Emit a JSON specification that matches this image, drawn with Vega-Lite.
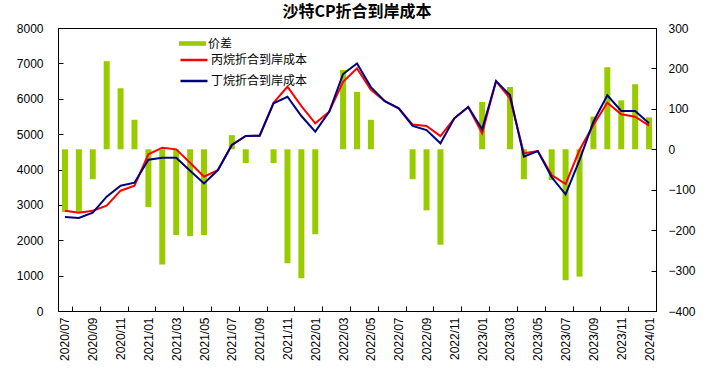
{
  "$schema": "https://vega.github.io/schema/vega-lite/v6.json",
  "width": 598,
  "height": 283,
  "autosize": "none",
  "padding": {"left": 58, "top": 28, "right": 54, "bottom": 74},
  "background": "white",
  "title": {"text": "沙特CP折合到岸成本", "font": "Noto Sans CJK SC", "fontSize": 16, "fontWeight": "bold", "color": "#000000", "offset": 2, "anchor": "middle"},
  "config": {
    "view": {"stroke": "#000000", "strokeWidth": 1},
    "axis": {"grid": false, "domainColor": "#000000", "domainWidth": 1, "tickColor": "#000000", "labelColor": "#000000", "labelFont": "Liberation Sans", "labelFontSize": 12, "title": null}
  },
  "datasets": {
    "spread": [
      {"m": "2020/07", "s": "价差", "v": -155}, {"m": "2020/08", "s": "价差", "v": -155}, {"m": "2020/09", "s": "价差", "v": -74},
      {"m": "2020/10", "s": "价差", "v": 218}, {"m": "2020/11", "s": "价差", "v": 151}, {"m": "2020/12", "s": "价差", "v": 73},
      {"m": "2021/01", "s": "价差", "v": -143}, {"m": "2021/02", "s": "价差", "v": -285}, {"m": "2021/03", "s": "价差", "v": -212},
      {"m": "2021/04", "s": "价差", "v": -215}, {"m": "2021/05", "s": "价差", "v": -212}, {"m": "2021/06", "s": "价差", "v": 0},
      {"m": "2021/07", "s": "价差", "v": 35}, {"m": "2021/08", "s": "价差", "v": -34}, {"m": "2021/09", "s": "价差", "v": 0},
      {"m": "2021/10", "s": "价差", "v": -34}, {"m": "2021/11", "s": "价差", "v": -282}, {"m": "2021/12", "s": "价差", "v": -319},
      {"m": "2022/01", "s": "价差", "v": -210}, {"m": "2022/02", "s": "价差", "v": 0}, {"m": "2022/03", "s": "价差", "v": 196},
      {"m": "2022/04", "s": "价差", "v": 142}, {"m": "2022/05", "s": "价差", "v": 73}, {"m": "2022/06", "s": "价差", "v": 0},
      {"m": "2022/07", "s": "价差", "v": 0}, {"m": "2022/08", "s": "价差", "v": -74}, {"m": "2022/09", "s": "价差", "v": -151},
      {"m": "2022/10", "s": "价差", "v": -236}, {"m": "2022/11", "s": "价差", "v": 0}, {"m": "2022/12", "s": "价差", "v": 0},
      {"m": "2023/01", "s": "价差", "v": 117}, {"m": "2023/02", "s": "价差", "v": 0}, {"m": "2023/03", "s": "价差", "v": 154},
      {"m": "2023/04", "s": "价差", "v": -74}, {"m": "2023/05", "s": "价差", "v": 0}, {"m": "2023/06", "s": "价差", "v": -76},
      {"m": "2023/07", "s": "价差", "v": -324}, {"m": "2023/08", "s": "价差", "v": -315}, {"m": "2023/09", "s": "价差", "v": 81},
      {"m": "2023/10", "s": "价差", "v": 203}, {"m": "2023/11", "s": "价差", "v": 121}, {"m": "2023/12", "s": "价差", "v": 161},
      {"m": "2024/01", "s": "价差", "v": 79}
    ],
    "cost": [
      {"m": "2020/07", "s": "丙烷折合到岸成本", "v": 2835}, {"m": "2020/08", "s": "丙烷折合到岸成本", "v": 2780}, {"m": "2020/09", "s": "丙烷折合到岸成本", "v": 2835},
      {"m": "2020/10", "s": "丙烷折合到岸成本", "v": 2977}, {"m": "2020/11", "s": "丙烷折合到岸成本", "v": 3401}, {"m": "2020/12", "s": "丙烷折合到岸成本", "v": 3543},
      {"m": "2021/01", "s": "丙烷折合到岸成本", "v": 4428}, {"m": "2021/02", "s": "丙烷折合到岸成本", "v": 4617}, {"m": "2021/03", "s": "丙烷折合到岸成本", "v": 4570},
      {"m": "2021/04", "s": "丙烷折合到岸成本", "v": 4193}, {"m": "2021/05", "s": "丙烷折合到岸成本", "v": 3797}, {"m": "2021/06", "s": "丙烷折合到岸成本", "v": 3985},
      {"m": "2021/07", "s": "丙烷折合到岸成本", "v": 4692}, {"m": "2021/08", "s": "丙烷折合到岸成本", "v": 4946}, {"m": "2021/09", "s": "丙烷折合到岸成本", "v": 4956},
      {"m": "2021/10", "s": "丙烷折合到岸成本", "v": 5888}, {"m": "2021/11", "s": "丙烷折合到岸成本", "v": 6340}, {"m": "2021/12", "s": "丙烷折合到岸成本", "v": 5794},
      {"m": "2022/01", "s": "丙烷折合到岸成本", "v": 5305}, {"m": "2022/02", "s": "丙烷折合到岸成本", "v": 5633}, {"m": "2022/03", "s": "丙烷折合到岸成本", "v": 6481},
      {"m": "2022/04", "s": "丙烷折合到岸成本", "v": 6859}, {"m": "2022/05", "s": "丙烷折合到岸成本", "v": 6250}, {"m": "2022/06", "s": "丙烷折合到岸成本", "v": 5930},
      {"m": "2022/07", "s": "丙烷折合到岸成本", "v": 5729}, {"m": "2022/08", "s": "丙烷折合到岸成本", "v": 5271}, {"m": "2022/09", "s": "丙烷折合到岸成本", "v": 5230},
      {"m": "2022/10", "s": "丙烷折合到岸成本", "v": 4946}, {"m": "2022/11", "s": "丙烷折合到岸成本", "v": 5446}, {"m": "2022/12", "s": "丙烷折合到岸成本", "v": 5766},
      {"m": "2023/01", "s": "丙烷折合到岸成本", "v": 5022}, {"m": "2023/02", "s": "丙烷折合到岸成本", "v": 6500}, {"m": "2023/03", "s": "丙烷折合到岸成本", "v": 6012},
      {"m": "2023/04", "s": "丙烷折合到岸成本", "v": 4457}, {"m": "2023/05", "s": "丙烷折合到岸成本", "v": 4522}, {"m": "2023/06", "s": "丙烷折合到岸成本", "v": 3844},
      {"m": "2023/07", "s": "丙烷折合到岸成本", "v": 3590}, {"m": "2023/08", "s": "丙烷折合到岸成本", "v": 4551}, {"m": "2023/09", "s": "丙烷折合到岸成本", "v": 5257},
      {"m": "2023/10", "s": "丙烷折合到岸成本", "v": 5888}, {"m": "2023/11", "s": "丙烷折合到岸成本", "v": 5560}, {"m": "2023/12", "s": "丙烷折合到岸成本", "v": 5492},
      {"m": "2024/01", "s": "丙烷折合到岸成本", "v": 5239},
      {"m": "2020/07", "s": "丁烷折合到岸成本", "v": 2657}, {"m": "2020/08", "s": "丁烷折合到岸成本", "v": 2628}, {"m": "2020/09", "s": "丁烷折合到岸成本", "v": 2780},
      {"m": "2020/10", "s": "丁烷折合到岸成本", "v": 3231}, {"m": "2020/11", "s": "丁烷折合到岸成本", "v": 3543}, {"m": "2020/12", "s": "丁烷折合到岸成本", "v": 3628},
      {"m": "2021/01", "s": "丁烷折合到岸成本", "v": 4278}, {"m": "2021/02", "s": "丁烷折合到岸成本", "v": 4334}, {"m": "2021/03", "s": "丁烷折合到岸成本", "v": 4334},
      {"m": "2021/04", "s": "丁烷折合到岸成本", "v": 3967}, {"m": "2021/05", "s": "丁烷折合到岸成本", "v": 3608}, {"m": "2021/06", "s": "丁烷折合到岸成本", "v": 3985},
      {"m": "2021/07", "s": "丁烷折合到岸成本", "v": 4692}, {"m": "2021/08", "s": "丁烷折合到岸成本", "v": 4946}, {"m": "2021/09", "s": "丁烷折合到岸成本", "v": 4956},
      {"m": "2021/10", "s": "丁烷折合到岸成本", "v": 5870}, {"m": "2021/11", "s": "丁烷折合到岸成本", "v": 6057}, {"m": "2021/12", "s": "丁烷折合到岸成本", "v": 5512},
      {"m": "2022/01", "s": "丁烷折合到岸成本", "v": 5069}, {"m": "2022/02", "s": "丁烷折合到岸成本", "v": 5633}, {"m": "2022/03", "s": "丁烷折合到岸成本", "v": 6699},
      {"m": "2022/04", "s": "丁烷折合到岸成本", "v": 7000}, {"m": "2022/05", "s": "丁烷折合到岸成本", "v": 6330}, {"m": "2022/06", "s": "丁烷折合到岸成本", "v": 5930},
      {"m": "2022/07", "s": "丁烷折合到岸成本", "v": 5729}, {"m": "2022/08", "s": "丁烷折合到岸成本", "v": 5230}, {"m": "2022/09", "s": "丁烷折合到岸成本", "v": 5116},
      {"m": "2022/10", "s": "丁烷折合到岸成本", "v": 4740}, {"m": "2022/11", "s": "丁烷折合到岸成本", "v": 5446}, {"m": "2022/12", "s": "丁烷折合到岸成本", "v": 5766},
      {"m": "2023/01", "s": "丁烷折合到岸成本", "v": 5135}, {"m": "2023/02", "s": "丁烷折合到岸成本", "v": 6500}, {"m": "2023/03", "s": "丁烷折合到岸成本", "v": 6105},
      {"m": "2023/04", "s": "丁烷折合到岸成本", "v": 4362}, {"m": "2023/05", "s": "丁烷折合到岸成本", "v": 4522}, {"m": "2023/06", "s": "丁烷折合到岸成本", "v": 3779},
      {"m": "2023/07", "s": "丁烷折合到岸成本", "v": 3298}, {"m": "2023/08", "s": "丁烷折合到岸成本", "v": 4268}, {"m": "2023/09", "s": "丁烷折合到岸成本", "v": 5351},
      {"m": "2023/10", "s": "丁烷折合到岸成本", "v": 6096}, {"m": "2023/11", "s": "丁烷折合到岸成本", "v": 5653}, {"m": "2023/12", "s": "丁烷折合到岸成本", "v": 5653},
      {"m": "2024/01", "s": "丁烷折合到岸成本", "v": 5305}
    ]
  },
  "layer": [
    {
      "data": {"name": "spread"},
      "mark": {"type": "bar", "width": 6},
      "encoding": {
        "x": {
          "field": "m", "type": "ordinal", "sort": null,
          "scale": {"paddingInner": 0, "paddingOuter": 0},
          "axis": {
            "labelAngle": -90, "labelFontSize": 12, "tickBand": "extent", "tickSize": -5, "labelPadding": 11,
            "values": ["2020/07", "2020/09", "2020/11", "2021/01", "2021/03", "2021/05", "2021/07", "2021/09", "2021/11", "2022/01", "2022/03", "2022/05", "2022/07", "2022/09", "2022/11", "2023/01", "2023/03", "2023/05", "2023/07", "2023/09", "2023/11", "2024/01"]
          }
        },
        "y": {
          "field": "v", "type": "quantitative",
          "scale": {"domain": [-400, 300], "nice": false, "zero": false},
          "axis": {"orient": "right", "values": [-400, -300, -200, -100, 0, 100, 200, 300], "tickSize": -5, "labelPadding": 17}
        },
        "fill": {
          "field": "s", "type": "nominal",
          "scale": {"domain": ["价差"], "range": ["#99CC00"]},
          "legend": {"orient": "none", "legendX": 121, "legendY": 2, "title": null, "symbolType": "M-1,-0.17H1V0.17H-1Z", "symbolSize": 729, "symbolStrokeWidth": 0, "labelFont": "Noto Sans CJK SC", "labelFontSize": 12, "labelColor": "#000000", "labelOffset": 2}
        }
      }
    },
    {
      "data": {"name": "cost"},
      "mark": {"type": "line", "strokeWidth": 2},
      "encoding": {
        "x": {"field": "m", "type": "ordinal", "sort": null},
        "y": {
          "field": "v", "type": "quantitative",
          "scale": {"domain": [0, 8000], "nice": false},
          "axis": {"orient": "left", "format": "d", "values": [0, 1000, 2000, 3000, 4000, 5000, 6000, 7000, 8000], "tickSize": -5, "labelPadding": 20}
        },
        "stroke": {
          "field": "s", "type": "nominal",
          "scale": {"domain": ["丙烷折合到岸成本", "丁烷折合到岸成本"], "range": ["#FF0000", "#000080"]},
          "legend": {"orient": "none", "legendX": 121, "legendY": 17, "title": null, "symbolType": "stroke", "symbolSize": 729, "symbolStrokeWidth": 2.5, "labelFont": "Noto Sans CJK SC", "labelFontSize": 12, "labelColor": "#000000", "labelOffset": 2, "rowPadding": -5}
        }
      }
    }
  ],
  "resolve": {"scale": {"y": "independent", "fill": "independent", "stroke": "independent"}}
}
